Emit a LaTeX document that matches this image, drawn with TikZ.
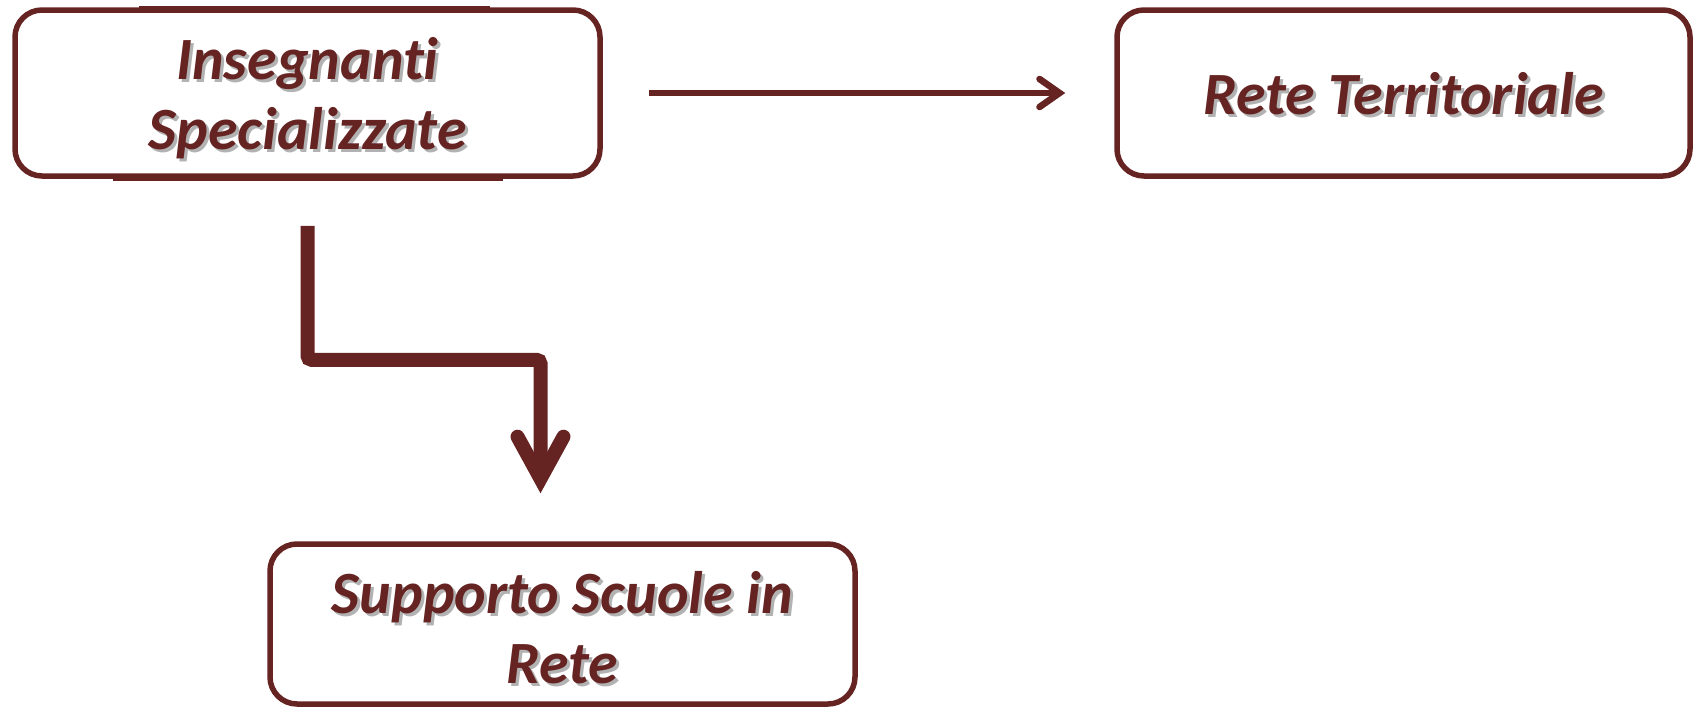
\documentclass[tikz,border=0pt]{standalone}
\usepackage{fontspec}
\setmainfont{Carlito}[Ligatures=NoCommon]
\usetikzlibrary{arrows.meta,calc}
\definecolor{maroon}{RGB}{101,35,34}
% text with a soft grey shadow, drawn #1 lower than its box
\newcommand{\shd}[2][2.5pt]{\raisebox{-#1}[\height][\depth]{\makebox[0pt][l]{\hspace{1.5pt}\raisebox{-1.5pt}{\textcolor{black!30}{#2}}}#2}}

\begin{document}
\begin{tikzpicture}[x=0.5pt, y=-0.5pt,
    box/.style={draw=maroon, line width=2.75pt, rounded corners=13.5pt, minimum height=83pt,
      align=center, text=maroon, font=\fontsize{30}{35}\selectfont\bfseries\itshape},
    patch/.style={maroon, line width=3.5pt},
    thinarrow/.style={maroon, line width=3.3pt, -{Straight Barb[length=10pt, width=14pt, line width=3.3pt, line cap=round]}},
    thickarrow/.style={maroon, line width=7pt, rounded corners=2pt,
      -{Straight Barb[length=21pt, width=23pt, line width=7pt, line cap=round, line join=miter]}}]
    \useasboundingbox (0,0) rectangle (1693,707);

    \node[box, minimum width=292.5pt] (ins) at (307.5,93) {\shd[3.5pt]{Insegnanti}\\\shd[3.5pt]{Specializzate}};
    \node[box, minimum width=286.5pt] (rete) at (1403.5,93) {\shd[1pt]{Rete Territoriale}};
    \node[box, minimum width=292.5pt, minimum height=80pt] (sup) at (562.5,624) {\shd{Supporto Scuole in}\\\shd{Rete}};

    % thicker bits on the borders
    \foreach \a/\b/\y in {139/490/9, 113/503/177, 470/663/705} { \draw[patch] (\a,\y) -- (\b,\y); }

    \draw[thinarrow] ($(ins.east)+(46,0)$) -- ($(rete.west)+(-49,0)$);
    \draw[thickarrow] ($(ins.south)+(0,47)$) -- ++(0,134) -| ($(sup.north)+(-22,-48)$);
  \end{tikzpicture}
\end{document}
